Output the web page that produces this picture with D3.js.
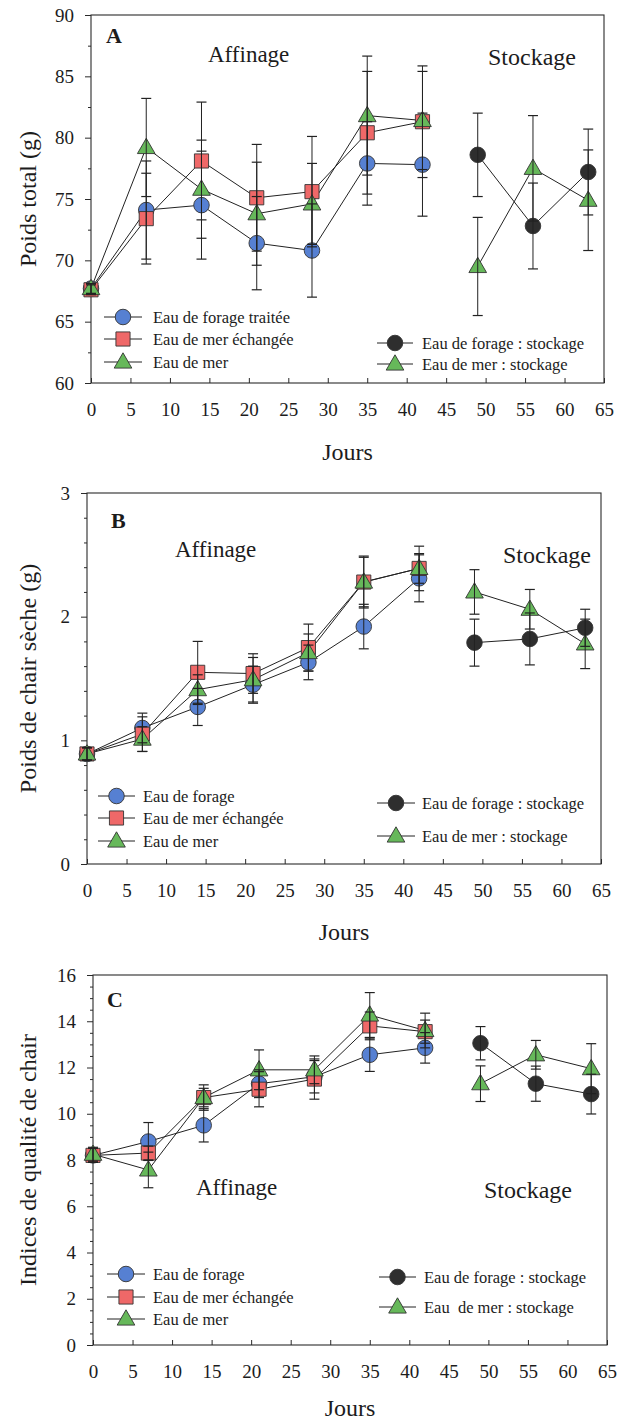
<!DOCTYPE html>
<html>
<head>
<meta charset="utf-8">
<script src="https://cdn.jsdelivr.net/npm/d3@7"></script>
<style>
  body { margin: 0; background: #fff; }
  svg { display: block; }
  text { font-family: "Liberation Serif", "Times New Roman", serif; fill: #1c1c1c; }
</style>
</head>
<body>
<svg id="fig" width="617" height="1426"></svg>
<script>
// ---- Days ----
const affinageDays = [0, 7, 14, 21, 28, 35, 42];
const stockageDays = [49, 56, 63];
const xTickValues = [0, 5, 10, 15, 20, 25, 30, 35, 40, 45, 50, 55, 60, 65];

// ---- A : Poids total (g) ----
const aForage      = [67.7, 74.1, 74.5, 71.4, 70.8, 77.9, 77.8];
const aForageErr   = [0.4, 4.0, 4.4, 3.8, 3.8, 3.4, 4.2];
const aMerEch      = [67.6, 73.4, 78.1, 75.1, 75.6, 80.4, 81.3];
const aMerEchErr   = [0.4, 3.7, 4.8, 4.35, 4.5, 5.0, 4.55];
const aMer         = [67.7, 79.2, 75.8, 73.8, 74.6, 81.8, 81.4];
const aMerErr      = [0.4, 4.0, 4.0, 4.2, 3.3, 4.85, 4.0];
const aStockForage    = [78.6, 72.8, 77.2];
const aStockForageErr = [3.4, 3.5, 3.5];
const aStockMer       = [69.5, 77.5, 74.9];
const aStockMerErr    = [4.0, 4.3, 4.1];
const aYTicks = [60, 65, 70, 75, 80, 85, 90];
const aLegend = ["Eau de forage traitée", "Eau de mer échangée", "Eau de mer"];
const aLegendStock = ["Eau de forage : stockage", "Eau de mer : stockage"];

// ---- B : Poids de chair sèche (g) ----
const bForage      = [0.89, 1.10, 1.27, 1.45, 1.63, 1.92, 2.31];
const bForageErr   = [0.05, 0.12, 0.15, 0.15, 0.14, 0.18, 0.19];
const bMerEch      = [0.89, 1.05, 1.55, 1.54, 1.75, 2.28, 2.39];
const bMerEchErr   = [0.05, 0.14, 0.25, 0.16, 0.19, 0.21, 0.12];
const bMer         = [0.89, 1.01, 1.41, 1.49, 1.71, 2.28, 2.39];
const bMerErr      = [0.05, 0.10, 0.12, 0.18, 0.15, 0.20, 0.18];
const bStockForage    = [1.79, 1.82, 1.91];
const bStockForageErr = [0.19, 0.21, 0.15];
const bStockMer       = [2.20, 2.06, 1.78];
const bStockMerErr    = [0.18, 0.16, 0.20];
const bYTicks = [0, 1, 2, 3];
const bLegend = ["Eau de forage", "Eau de mer échangée", "Eau de mer"];
const bLegendStock = ["Eau de forage : stockage", "Eau de mer : stockage"];

// ---- C : Indices de qualité de chair ----
const cForage      = [8.2, 8.8, 9.5, 11.3, 11.6, 12.55, 12.85];
const cForageErr   = [0.3, 0.82, 0.72, 0.6, 0.7, 0.72, 0.66];
const cMerEch      = [8.2, 8.3, 10.7, 11.06, 11.5, 13.8, 13.55];
const cMerEchErr   = [0.3, 0.3, 0.4, 0.76, 0.87, 0.6, 0.5];
const cMer         = [8.25, 7.57, 10.7, 11.9, 11.9, 14.27, 13.6];
const cMerErr      = [0.3, 0.77, 0.55, 0.86, 0.6, 0.97, 0.75];
const cStockForage    = [13.05, 11.3, 10.85];
const cStockForageErr = [0.72, 0.76, 0.86];
const cStockMer       = [11.3, 12.55, 11.95];
const cStockMerErr    = [0.77, 0.62, 1.08];
const cYTicks = [0, 2, 4, 6, 8, 10, 12, 14, 16];
const cLegend = ["Eau de forage", "Eau de mer échangée", "Eau de mer"];
const cLegendStock = ["Eau de forage : stockage", "Eau  de mer : stockage"];

// ---- Styles ----
const COLORS = { forage: "#5680d2", merEch: "#ef6868", mer: "#66b85a", stock: "#2e2e2e" };
const SYMBOLS = { circle: d3.symbolCircle, square: d3.symbolSquare, triangle: d3.symbolTriangle };
const SYMBOL_SIZE = { circle: 190, square: 200, triangle: 135 };

const svg = d3.select("#fig");

const panels = [
  {
    letter: "A", yLabel: "Poids total (g)", yDomain: [60, 90], yTicks: aYTicks, minorStep: 2.5,
    box: { left: 91, right: 604, top: 15, bottom: 383 }, joursOffset: 77,
    series: [
      { days: affinageDays, v: aForage, e: aForageErr, sym: "circle", color: COLORS.forage },
      { days: affinageDays, v: aMerEch, e: aMerEchErr, sym: "square", color: COLORS.merEch },
      { days: affinageDays, v: aMer, e: aMerErr, sym: "triangle", color: COLORS.mer },
      { days: stockageDays, v: aStockForage, e: aStockForageErr, sym: "circle", color: COLORS.stock },
      { days: stockageDays, v: aStockMer, e: aStockMerErr, sym: "triangle", color: COLORS.mer }
    ],
    legend: aLegend, legendStock: aLegendStock,
    layout: {
      letter: [15, 28], affinage: [117, 47], stockage: [397, 50],
      leg: { ys: [302, 324, 347], x1: 13, x2: 51, tx: 62 },
      legS: { ys: [328, 349], x1: 286, x2: 322, tx: 331 }
    }
  },
  {
    letter: "B", yLabel: "Poids de chair sèche (g)", yDomain: [0, 3], yTicks: bYTicks, minorStep: 0.2,
    box: { left: 87, right: 601, top: 493, bottom: 864 }, joursOffset: 76,
    series: [
      { days: affinageDays, v: bForage, e: bForageErr, sym: "circle", color: COLORS.forage },
      { days: affinageDays, v: bMerEch, e: bMerEchErr, sym: "square", color: COLORS.merEch },
      { days: affinageDays, v: bMer, e: bMerErr, sym: "triangle", color: COLORS.mer },
      { days: stockageDays, v: bStockForage, e: bStockForageErr, sym: "circle", color: COLORS.stock },
      { days: stockageDays, v: bStockMer, e: bStockMerErr, sym: "triangle", color: COLORS.mer }
    ],
    legend: bLegend, legendStock: bLegendStock,
    layout: {
      letter: [24, 35], affinage: [88, 64], stockage: [416, 70],
      leg: { ys: [303, 325, 348], x1: 11, x2: 48, tx: 56 },
      legS: { ys: [310, 343], x1: 290, x2: 328, tx: 335 }
    }
  },
  {
    letter: "C", yLabel: "Indices de qualité de chair", yDomain: [0, 16], yTicks: cYTicks, minorStep: 0.5,
    box: { left: 93, right: 607, top: 975, bottom: 1345 }, joursOffset: 71,
    series: [
      { days: affinageDays, v: cForage, e: cForageErr, sym: "circle", color: COLORS.forage },
      { days: affinageDays, v: cMerEch, e: cMerEchErr, sym: "square", color: COLORS.merEch },
      { days: affinageDays, v: cMer, e: cMerErr, sym: "triangle", color: COLORS.mer },
      { days: stockageDays, v: cStockForage, e: cStockForageErr, sym: "circle", color: COLORS.stock },
      { days: stockageDays, v: cStockMer, e: cStockMerErr, sym: "triangle", color: COLORS.mer }
    ],
    legend: cLegend, legendStock: cLegendStock,
    layout: {
      letter: [14, 32], affinage: [103, 220], stockage: [391, 223],
      leg: { ys: [299, 322, 344], x1: 14, x2: 52, tx: 60 },
      legS: { ys: [302, 332], x1: 286, x2: 323, tx: 331 }
    }
  }
];

const legendSyms = [
  { sym: "circle", color: COLORS.forage },
  { sym: "square", color: COLORS.merEch },
  { sym: "triangle", color: COLORS.mer }
];
const legendStockSyms = [
  { sym: "circle", color: COLORS.stock },
  { sym: "triangle", color: COLORS.mer }
];

function drawMarker(g, sym, color, cx, cy) {
  g.append("path")
    .attr("d", d3.symbol().type(SYMBOLS[sym]).size(SYMBOL_SIZE[sym])())
    .attr("transform", `translate(${cx},${cy + (sym === "triangle" ? 1 : 0)})`)
    .attr("fill", color)
    .attr("stroke", "#333")
    .attr("stroke-width", 0.9);
}

function drawPanel(p) {
  const b = p.box;
  const x = d3.scaleLinear().domain([0, 65]).range([b.left, b.right]);
  const y = d3.scaleLinear().domain(p.yDomain).range([b.bottom, b.top]);
  const g = svg.append("g");

  // frame
  g.append("rect")
    .attr("x", b.left).attr("y", b.top)
    .attr("width", b.right - b.left).attr("height", b.bottom - b.top)
    .attr("fill", "none").attr("stroke", "#2a2a2a").attr("stroke-width", 1.1);

  // x axis: ticks point into the plot
  const xa = g.append("g").attr("transform", `translate(0,${b.bottom})`)
    .call(d3.axisBottom(x).tickValues(xTickValues).tickSize(-5).tickPadding(20).tickFormat(d3.format("d")));
  xa.select(".domain").remove();
  xa.selectAll("line").attr("stroke", "#2a2a2a");
  xa.selectAll("text").style("font-family", "Liberation Serif, serif").style("font-size", "19px").attr("fill", "#1c1c1c");

  // y axis, major + minor ticks
  const [y0, y1] = p.yDomain;
  const minor = d3.range(y0, y1 + 1e-9, p.minorStep).filter(v => !p.yTicks.some(t => Math.abs(t - v) < 1e-9));
  const ym = g.append("g").attr("transform", `translate(${b.left},0)`)
    .call(d3.axisLeft(y).tickValues(minor).tickSize(3).tickFormat(""));
  ym.select(".domain").remove();
  ym.selectAll("line").attr("stroke", "#2a2a2a");
  const ya = g.append("g").attr("transform", `translate(${b.left},0)`)
    .call(d3.axisLeft(y).tickValues(p.yTicks).tickSize(6).tickPadding(11).tickFormat(d3.format("d")));
  ya.select(".domain").remove();
  ya.selectAll("line").attr("stroke", "#2a2a2a");
  ya.selectAll("text").style("font-family", "Liberation Serif, serif").style("font-size", "19px").attr("fill", "#1c1c1c");

  // axis titles
  g.append("text")
    .attr("transform", `translate(28,${(b.top + b.bottom) / 2}) rotate(-90)`)
    .attr("text-anchor", "middle").attr("dominant-baseline", "central")
    .style("font-size", "24px").text(p.yLabel);
  g.append("text")
    .attr("x", (b.left + b.right) / 2).attr("y", b.bottom + p.joursOffset)
    .attr("text-anchor", "middle").style("font-size", "24px").text("Jours");

  // panel annotations
  const L = p.layout;
  g.append("text").attr("x", b.left + L.letter[0]).attr("y", b.top + L.letter[1])
    .style("font-size", "22px").style("font-weight", "bold").text(p.letter);
  g.append("text").attr("x", b.left + L.affinage[0]).attr("y", b.top + L.affinage[1])
    .style("font-size", "23px").text("Affinage");
  g.append("text").attr("x", b.left + L.stockage[0]).attr("y", b.top + L.stockage[1])
    .style("font-size", "24px").text("Stockage");

  // series
  const line = d3.line().x(d => x(d[0])).y(d => y(d[1]));
  p.series.forEach(s => {
    const pts = d3.zip(s.days, s.v);
    g.append("path").attr("d", line(pts)).attr("fill", "none").attr("stroke", "#222").attr("stroke-width", 1);
  });
  p.series.forEach(s => {
    d3.zip(s.days, s.v).forEach(([d, v]) => drawMarker(g, s.sym, s.color, x(d), y(v)));
  });
  // error bars on top of markers
  p.series.forEach(s => {
    d3.zip(s.days, s.v, s.e).forEach(([d, v, e]) => {
      const cx = x(d), top = y(v + e), bot = y(v - e);
      g.append("line").attr("x1", cx).attr("x2", cx).attr("y1", top).attr("y2", bot)
        .attr("stroke", "#222").attr("stroke-width", 1);
      [top, bot].forEach(yy => g.append("line")
        .attr("x1", cx - 5).attr("x2", cx + 5).attr("y1", yy).attr("y2", yy)
        .attr("stroke", "#222").attr("stroke-width", 1.2));
    });
  });

  // legends
  function legend(items, syms, cfg) {
    items.forEach((label, i) => {
      const yy = b.top + cfg.ys[i];
      const x1 = b.left + cfg.x1, x2 = b.left + cfg.x2;
      g.append("line").attr("x1", x1).attr("x2", x2).attr("y1", yy).attr("y2", yy)
        .attr("stroke", "#222").attr("stroke-width", 1);
      drawMarker(g, syms[i].sym, syms[i].color, (x1 + x2) / 2, yy);
      g.append("text").attr("x", b.left + cfg.tx).attr("y", yy)
        .attr("dominant-baseline", "central").style("font-size", "16.5px")
        .style("white-space", "pre").text(label);
    });
  }
  legend(p.legend, legendSyms, L.leg);
  legend(p.legendStock, legendStockSyms, L.legS);
}

panels.forEach(drawPanel);
</script>
</body>
</html>
